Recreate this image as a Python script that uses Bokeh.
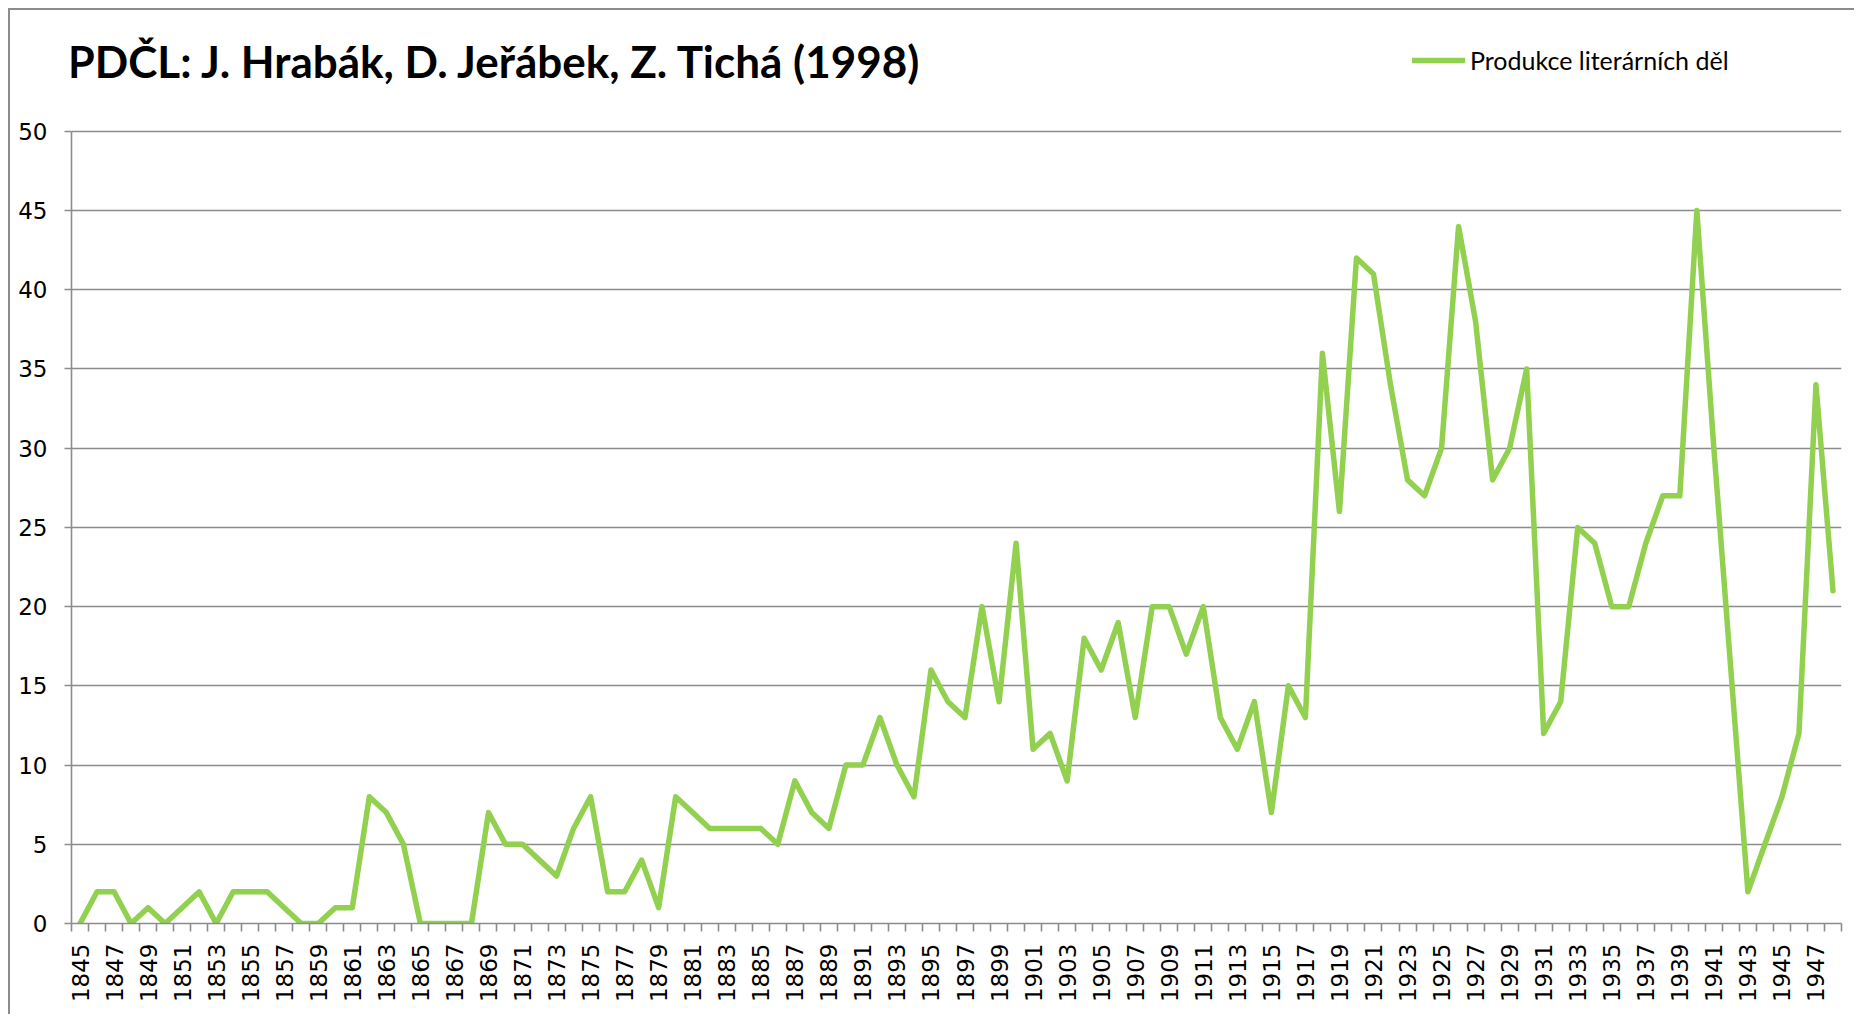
import math
from bokeh.plotting import figure
from bokeh.models import Range1d, FixedTicker, Label, Legend, LegendItem
from bokeh.embed import file_html
from bokeh.resources import INLINE

title_text = "PDČL: J. Hrabák, D. Jeřábek, Z. Tichá (1998)"
series_name = "Produkce literárních děl"

years = list(range(1845, 1949))
counts = [
    0, 2, 2, 0, 1, 0, 1, 2, 0, 2,      # 1845-1854
    2, 2, 1, 0, 0, 1, 1, 8, 7, 5,      # 1855-1864
    0, 0, 0, 0, 7, 5, 5, 4, 3, 6,      # 1865-1874
    8, 2, 2, 4, 1, 8, 7, 6, 6, 6,      # 1875-1884
    6, 5, 9, 7, 6, 10, 10, 13, 10, 8,  # 1885-1894
    16, 14, 13, 20, 14, 24, 11, 12, 9, 18,  # 1895-1904
    16, 19, 13, 20, 20, 17, 20, 13, 11, 14,  # 1905-1914
    7, 15, 13, 36, 26, 42, 41, 34, 28, 27,   # 1915-1924
    30, 44, 38, 28, 30, 35, 12, 14, 25, 24,  # 1925-1934
    20, 20, 24, 27, 27, 45, 30, 16, 2, 5,    # 1935-1944
    8, 12, 34, 21,                           # 1945-1948
]
label_years = list(range(1845, 1949, 2))
y_ticks = list(range(0, 55, 5))

GREEN = "#92d050"
GRAY = "#8c8c8c"

p = figure(width=1846, height=1006, output_backend="svg", toolbar_location=None,
           x_range=Range1d(years[0] - 0.5, years[-1] + 0.5), y_range=Range1d(0, 57.5),
           min_border_left=61, min_border_right=15, min_border_top=2, min_border_bottom=93)
p.styles = {"margin-left": "8px", "margin-top": "8px",
            "border-top": "2px solid #8c8c8c", "border-left": "2px solid #8c8c8c"}
p.outline_line_color = None
p.background_fill_color = "white"
p.border_fill_color = "white"

r = p.line(years, counts, line_color=GREEN, line_width=5.5, line_join="round", line_cap="round")

# axes
p.xgrid.visible = False
p.ygrid.ticker = FixedTicker(ticks=y_ticks)
p.ygrid.grid_line_color = GRAY
p.ygrid.grid_line_width = 1.6

xa = p.xaxis[0]
xa.ticker = FixedTicker(ticks=label_years, minor_ticks=[y - 0.5 for y in years] + [years[-1] + 0.5])
xa.major_label_overrides = {y: str(y) for y in label_years}
xa.major_label_orientation = math.pi / 2
xa.major_tick_out = 0
xa.major_tick_in = 0
xa.minor_tick_out = 8
xa.minor_tick_in = 0
xa.minor_tick_line_color = GRAY
xa.minor_tick_line_width = 1.6
xa.axis_line_color = GRAY
xa.axis_line_width = 1.6
xa.major_label_standoff = 12
xa.major_label_text_font = "DejaVu Sans"
xa.major_label_text_font_size = "23px"
xa.major_label_text_color = "black"

ya = p.yaxis[0]
ya.ticker = FixedTicker(ticks=y_ticks)
ya.bounds = (0, 50)
ya.minor_tick_line_color = None
ya.major_tick_out = 7
ya.major_tick_in = 0
ya.major_tick_line_color = GRAY
ya.major_tick_line_width = 1.6
ya.axis_line_color = GRAY
ya.axis_line_width = 1.6
ya.major_label_standoff = 17
ya.major_label_text_font = "DejaVu Sans"
ya.major_label_text_font_size = "23px"
ya.major_label_text_color = "black"

# title
title = Label(x=-4, y=863, x_units="screen", y_units="screen", text=title_text,
              text_font="Lato", text_font_style="bold", text_font_size="44px",
              text_baseline="middle", text_align="left", text_color="black")
p.add_layout(title)

legend = Legend(items=[LegendItem(label=series_name, renderers=[r])],
                location=(1341, 848), orientation="horizontal",
                glyph_width=53, glyph_height=20, label_height=20, label_standoff=5,
                padding=0, margin=0, border_line_color=None, background_fill_alpha=0,
                label_text_font="Lato", label_text_font_size="25px", label_text_color="black")
p.add_layout(legend)

open("out.html", "w").write(file_html(p, INLINE))
